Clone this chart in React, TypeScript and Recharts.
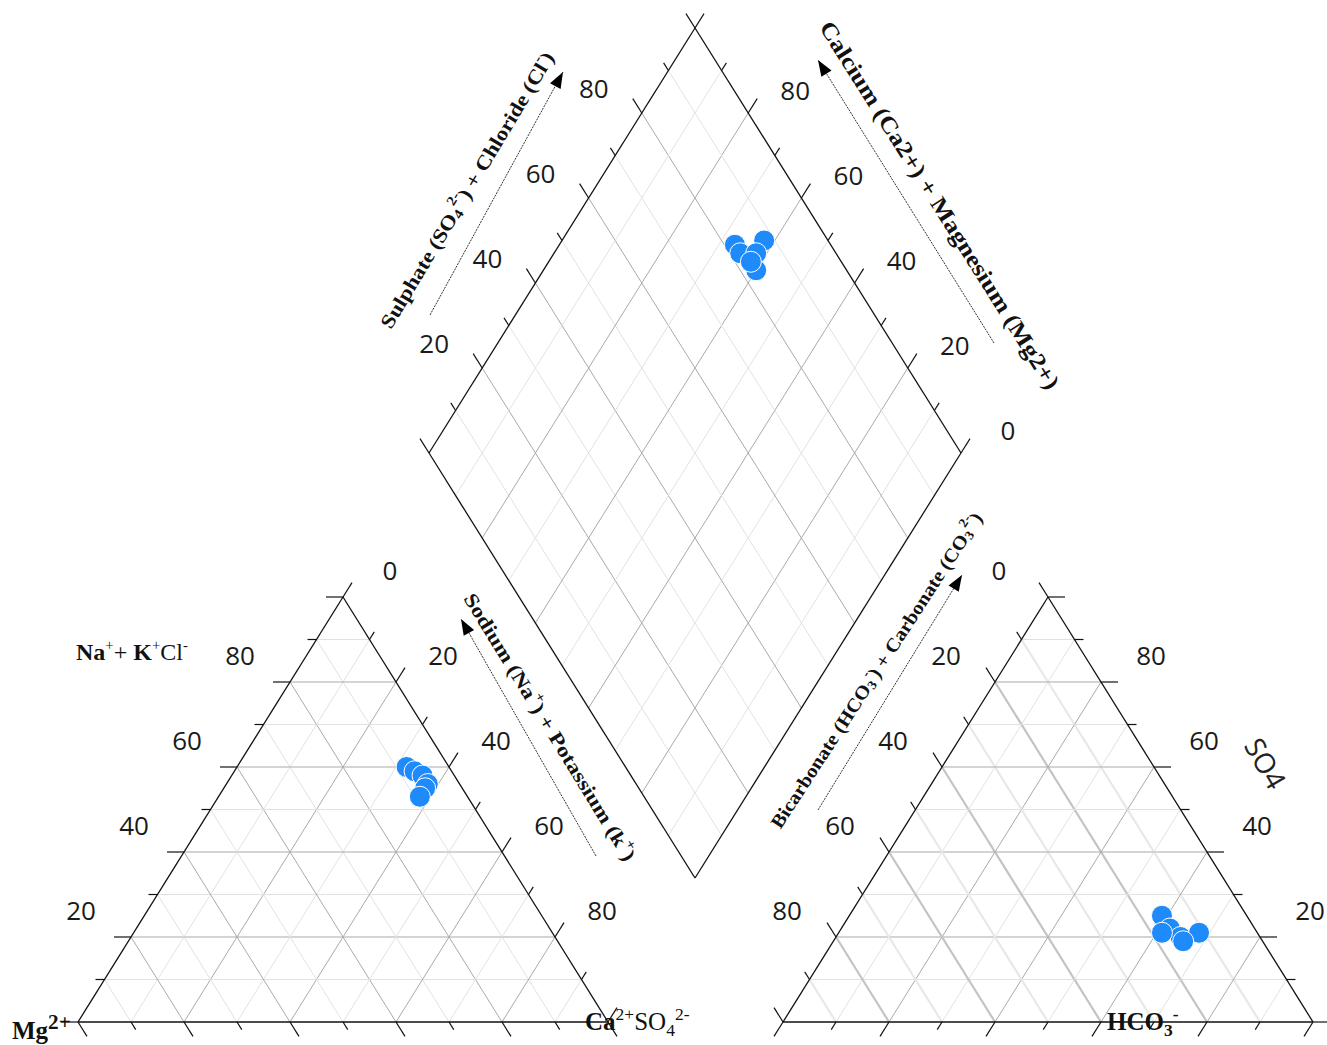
import React from "react";
import { ScatterChart, Scatter, XAxis, YAxis, ReferenceLine, ReferenceDot } from "recharts";

// samples (percent)
const samples = ["S1", "S2", "S3", "S4", "S5", "S6"];
const cationNaK = [60, 59, 58, 56, 55, 53];
const cationCa = [32, 34, 36, 38, 38, 38];
const anionSO4 = [25, 22, 20, 21, 19, 21];
const anionHCO3 = [59, 62, 65, 68, 66, 61];
const diamondCaMg = [67, 62, 65, 62, 60, 62];
const diamondSO4Cl = [82, 88, 82, 85, 83, 83];

// tick labels
const leftTriLeftTicks = [20, 40, 60, 80];
const leftTriRightTicks = [0, 20, 40, 60, 80];
const rightTriLeftTicks = [0, 20, 40, 60, 80];
const rightTriRightTicks = [20, 40, 60, 80];
const diaLeftTicks = [20, 40, 60, 80];
const diaRightTicks = [0, 20, 40, 60, 80];

const W = 1327;
const H = 1045;

type Pt = { x: number; y: number };
type Tri = { x0: number; x1: number; base: number; h: number };

const LEFT: Tri = { x0: 78, x1: 608, base: 1022, h: 425 };
const RIGHT: Tri = { x0: 783, x1: 1313, base: 1022, h: 425 };
const DIA = { cx: 695, bottom: 878, hw: 266, hh: 425 };

// a = top share, b = bottom-right share
const tri = (t: Tri, a: number, b: number): Pt => ({
  x: t.x0 + (b + a / 2) * (t.x1 - t.x0),
  y: t.base - a * t.h,
});
const dia = (p: number, q: number): Pt => ({
  x: DIA.cx + (q - p) * DIA.hw,
  y: DIA.bottom - (p + q) * DIA.hh,
});
const unit = (dx: number, dy: number): Pt => {
  const l = Math.hypot(dx, dy);
  return { x: dx / l, y: dy / l };
};
const ext = (p: Pt, d: Pt, len: number): Pt => ({ x: p.x + d.x * len, y: p.y + d.y * len });
const off = (p: Pt, dx: number, dy: number): Pt => ({ x: p.x + dx, y: p.y + dy });

const EDGE = "#111";
const MAJOR = "#a9a9a9";
const MINOR = "#e2e2e2";
const BLUE = "#1f8bfa";
const NUM_FONT = "'Open Sans', 'Noto Sans', sans-serif";
const SERIF = "'Liberation Serif', 'Times New Roman', serif";

type Seg = { a: Pt; b: Pt; stroke: string; w: number };

function triangleSegs(t: Tri, side: "left" | "right"): Seg[] {
  const w = t.x1 - t.x0;
  const upRight = unit(w / 2, -t.h);
  const downRight = unit(w / 2, t.h);
  const downLeft = unit(-w / 2, t.h);
  const upLeft = unit(-w / 2, -t.h);
  const grid: Seg[] = [];
  const edges: Seg[] = [];
  const ticks: Seg[] = [];
  for (let i = 0; i <= 10; i++) {
    const v = i / 10;
    const col = i % 2 === 0 ? MAJOR : MINOR;
    const tl = i % 2 === 0 ? 17 : 9;
    const hl = tri(t, v, 0);
    const hr = tri(t, v, 1 - v);
    const bb = tri(t, 0, v);
    const be = tri(t, 1 - v, v);
    const cl = tri(t, 1 - v, 0);
    const cb = tri(t, 0, 1 - v);
    // the anion triangle has soft, wide strokes on the "\" family
    const cCol = side === "right" ? (i % 2 === 0 ? "#c4c4c4" : "#e8e8e8") : col;
    const cw = side === "right" ? 2.2 : 1;
    if (i === 0) {
      edges.push({ a: hl, b: hr, stroke: EDGE, w: 1.3 });
      edges.push({ a: bb, b: be, stroke: EDGE, w: 1.3 });
      edges.push({ a: cl, b: cb, stroke: EDGE, w: 1.3 });
    } else if (i < 10) {
      grid.push({ a: cl, b: cb, stroke: cCol, w: cw });
      grid.push({ a: hl, b: hr, stroke: col, w: 1 });
      grid.push({ a: bb, b: be, stroke: col, w: 1 });
    }
    if (side === "left") {
      ticks.push({ a: hl, b: ext(hl, { x: -1, y: 0 }, tl), stroke: EDGE, w: 1.2 });
      ticks.push({ a: be, b: ext(be, upRight, tl), stroke: EDGE, w: 1.2 });
      ticks.push({ a: cb, b: ext(cb, downRight, tl), stroke: EDGE, w: 1.2 });
    } else {
      ticks.push({ a: hr, b: ext(hr, { x: 1, y: 0 }, tl), stroke: EDGE, w: 1.2 });
      ticks.push({ a: bb, b: ext(bb, downLeft, tl), stroke: EDGE, w: 1.2 });
      ticks.push({ a: cl, b: ext(cl, upLeft, tl), stroke: EDGE, w: 1.2 });
    }
  }
  return grid.concat(edges, ticks);
}

function diamondSegs(): Seg[] {
  const grid: Seg[] = [];
  const edges: Seg[] = [];
  const ticks: Seg[] = [];
  const upRight = unit(DIA.hw, -DIA.hh);
  const upLeft = unit(-DIA.hw, -DIA.hh);
  for (let i = 0; i <= 10; i++) {
    const v = i / 10;
    const col = i % 2 === 0 ? MAJOR : MINOR;
    const tl = i % 2 === 0 ? 17 : 9;
    const isEdge = i === 0 || i === 10;
    const pa = dia(v, 0);
    const pb = dia(v, 1);
    const qa = dia(0, v);
    const qb = dia(1, v);
    (isEdge ? edges : grid).push({ a: pa, b: pb, stroke: isEdge ? EDGE : col, w: isEdge ? 1.3 : 1 });
    (isEdge ? edges : grid).push({ a: qa, b: qb, stroke: isEdge ? EDGE : col, w: isEdge ? 1.3 : 1 });
    ticks.push({ a: pb, b: ext(pb, upRight, tl), stroke: EDGE, w: 1.2 });
    ticks.push({ a: qb, b: ext(qb, upLeft, tl), stroke: EDGE, w: 1.2 });
  }
  return grid.concat(edges, ticks);
}

const allSegs: Seg[] = [
  ...diamondSegs(),
  ...triangleSegs(LEFT, "left"),
  ...triangleSegs(RIGHT, "right"),
];

const leftPts = samples.map((s, i) => ({ name: s, ...tri(LEFT, cationNaK[i] / 100, cationCa[i] / 100) }));
const rightPts = samples.map((s, i) => ({ name: s, ...tri(RIGHT, anionSO4[i] / 100, anionHCO3[i] / 100) }));
const diaPts = samples.map((s, i) => ({ name: s, ...dia(diamondCaMg[i] / 100, diamondSO4Cl[i] / 100) }));

type Span = { t: string; m?: "sup" | "sub"; b?: boolean };

type TextSpec = {
  key: string;
  at: Pt;
  spans: Span[];
  size: number;
  family: string;
  bold?: boolean;
  angle?: number;
  anchor?: "start" | "middle" | "end";
  middle?: boolean;
  length?: number;
  color?: string;
  subScale?: number;
};

function renderText(s: TextSpec, cx: number, cy: number) {
  let prev = 0;
  const sc = s.subScale || 0.68;
  return (
    <text
      x={cx}
      y={cy}
      transform={s.angle ? `rotate(${s.angle} ${cx} ${cy})` : undefined}
      textAnchor={s.anchor || "middle"}
      dominantBaseline={s.middle ? "central" : "alphabetic"}
      fontSize={s.size}
      fontFamily={s.family}
      fontWeight={s.bold ? 700 : 400}
      fill={s.color || "#111"}
      textLength={s.length}
      lengthAdjust={s.length ? "spacingAndGlyphs" : undefined}
    >
      {s.spans.map((sp, i) => {
        const o = sp.m === "sup" ? -0.4 * s.size : sp.m === "sub" ? 0.22 * s.size : 0;
        const dy = o - prev;
        prev = o;
        return (
          <tspan
            key={i}
            dy={dy}
            fontSize={sp.m ? s.size * sc : s.size}
            fontWeight={sp.b === undefined ? undefined : sp.b ? 700 : 400}
          >
            {sp.t}
          </tspan>
        );
      })}
    </text>
  );
}

const numSpec = (key: string, at: Pt, v: number): TextSpec => ({
  key,
  at,
  spans: [{ t: String(v) }],
  size: 26,
  family: NUM_FONT,
  middle: true,
  color: "#1a1a1a",
});

const texts: TextSpec[] = [
  ...leftTriLeftTicks.map((v) => numSpec(`ltl${v}`, off(tri(LEFT, v / 100, 0), -50, -27), v)),
  ...leftTriRightTicks.map((v) => numSpec(`ltr${v}`, off(tri(LEFT, 1 - v / 100, v / 100), 47, -27), v)),
  ...rightTriLeftTicks.map((v) => numSpec(`rtl${v}`, off(tri(RIGHT, 1 - v / 100, 0), -49, -27), v)),
  ...rightTriRightTicks.map((v) => numSpec(`rtr${v}`, off(tri(RIGHT, v / 100, 1 - v / 100), 50, -27), v)),
  ...diaLeftTicks.map((v) => numSpec(`dl${v}`, off(dia(1, v / 100), -48, -25), v)),
  ...diaRightTicks.map((v) => numSpec(`dr${v}`, off(dia(v / 100, 1), 47, -23), v)),
  {
    key: "sulphate",
    at: { x: 467, y: 190 },
    angle: -59,
    size: 20,
    bold: true,
    family: SERIF,
    middle: true,
    length: 318,
    spans: [{ t: "Sulphate (SO" }, { t: "4", m: "sub" }, { t: "2-", m: "sup" }, { t: ") + Chloride (Cl" }, { t: "-", m: "sup" }, { t: ")" }],
  },
  {
    key: "calcium",
    at: { x: 940, y: 205 },
    angle: 57.8,
    size: 23,
    bold: true,
    family: SERIF,
    middle: true,
    length: 430,
    spans: [{ t: "Calcium (Ca2+) + Magnesium (Mg2+)" }],
  },
  {
    key: "sodium",
    at: { x: 550, y: 727 },
    angle: 58.5,
    size: 20,
    bold: true,
    family: SERIF,
    middle: true,
    length: 310,
    spans: [{ t: "Sodium (Na" }, { t: "+", m: "sup" }, { t: ") + Potassium (k" }, { t: "+", m: "sup" }, { t: ")" }],
  },
  {
    key: "bicarb",
    at: { x: 876, y: 670 },
    angle: -57,
    size: 19,
    bold: true,
    family: SERIF,
    middle: true,
    length: 372,
    spans: [{ t: "Bicarbonate (HCO" }, { t: "3", m: "sub" }, { t: "-", m: "sup" }, { t: ") + Carbonate (CO" }, { t: "3", m: "sub" }, { t: "2-", m: "sup" }, { t: ")" }],
  },
  {
    key: "nak",
    at: { x: 76, y: 660 },
    anchor: "start",
    size: 24,
    family: SERIF,
    subScale: 0.62,
    spans: [{ t: "Na", b: true }, { t: "+", m: "sup" }, { t: "+ " }, { t: "K", b: true }, { t: "+", m: "sup" }, { t: "Cl" }, { t: "-", m: "sup" }],
  },
  {
    key: "mg",
    at: { x: 12, y: 1039 },
    anchor: "start",
    size: 25,
    bold: true,
    family: SERIF,
    subScale: 0.85,
    spans: [{ t: "Mg" }, { t: "2+", m: "sup" }],
  },
  {
    key: "ca",
    at: { x: 585, y: 1030 },
    anchor: "start",
    size: 25,
    family: SERIF,
    subScale: 0.7,
    spans: [{ t: "Ca", b: true }, { t: "2+", m: "sup" }, { t: "SO" }, { t: "4", m: "sub" }, { t: "2-", m: "sup" }],
  },
  {
    key: "hco3",
    at: { x: 1107, y: 1030 },
    anchor: "start",
    size: 25,
    bold: true,
    family: SERIF,
    subScale: 0.7,
    spans: [{ t: "HCO" }, { t: "3", m: "sub" }, { t: "-", m: "sup" }],
  },
  {
    key: "so4",
    at: { x: 1266, y: 763 },
    angle: 60,
    size: 28,
    family: NUM_FONT,
    middle: true,
    color: "#222",
    spans: [{ t: "SO4" }],
  },
];

// arrows beside the axis titles
const arrows: { key: string; from: Pt; to: Pt }[] = [
  { key: "a-sul", from: { x: 430, y: 315 }, to: { x: 563, y: 72 } },
  { key: "a-cal", from: { x: 994, y: 343 }, to: { x: 818, y: 60 } },
  { key: "a-sod", from: { x: 596, y: 856 }, to: { x: 461, y: 619 } },
  { key: "a-bic", from: { x: 818, y: 810 }, to: { x: 962, y: 575 } },
];

function Dot(props: any) {
  const { cx, cy } = props;
  if (cx == null || cy == null) return null;
  return <circle cx={cx} cy={cy} r={10.5} fill={BLUE} stroke="#ffffff" strokeWidth={1} />;
}

export default function App() {
  return (
    <div style={{ position: "absolute", left: 0, top: 0, width: W, height: H, background: "#fff" }}>
      <ScatterChart width={W} height={H} margin={{ top: 0, right: 0, bottom: 0, left: 0 }}>
        <XAxis type="number" dataKey="x" domain={[0, W]} hide allowDataOverflow />
        <YAxis type="number" dataKey="y" domain={[0, H]} reversed hide allowDataOverflow />
        {allSegs.map((s, i) => (
          <ReferenceLine
            key={`seg${i}`}
            segment={[s.a, s.b]}
            stroke={s.stroke}
            strokeWidth={s.w}
            ifOverflow="visible"
          />
        ))}
        {arrows.map((a) => (
          <ReferenceLine
            key={a.key}
            segment={[a.from, a.to]}
            stroke="#333"
            strokeWidth={1}
            strokeDasharray="2 1"
            ifOverflow="visible"
          />
        ))}
        {arrows.map((a) => {
          const ang = (Math.atan2(a.to.y - a.from.y, a.to.x - a.from.x) * 180) / Math.PI;
          return (
            <ReferenceDot
              key={`${a.key}-head`}
              x={a.to.x}
              y={a.to.y}
              r={0}
              ifOverflow="visible"
              shape={(p: any) => (
                <polygon
                  points={`${p.cx},${p.cy} ${p.cx - 16},${p.cy - 6} ${p.cx - 16},${p.cy + 6}`}
                  transform={`rotate(${ang} ${p.cx} ${p.cy})`}
                  fill="#000"
                />
              )}
            />
          );
        })}
        {texts.map((t) => (
          <ReferenceDot
            key={t.key}
            x={t.at.x}
            y={t.at.y}
            r={0}
            ifOverflow="visible"
            shape={(p: any) => renderText(t, p.cx, p.cy)}
          />
        ))}
        <Scatter name="cations" data={leftPts} shape={Dot} isAnimationActive={false} />
        <Scatter name="diamond" data={diaPts} shape={Dot} isAnimationActive={false} />
        <Scatter name="anions" data={rightPts} shape={Dot} isAnimationActive={false} />
      </ScatterChart>
    </div>
  );
}
